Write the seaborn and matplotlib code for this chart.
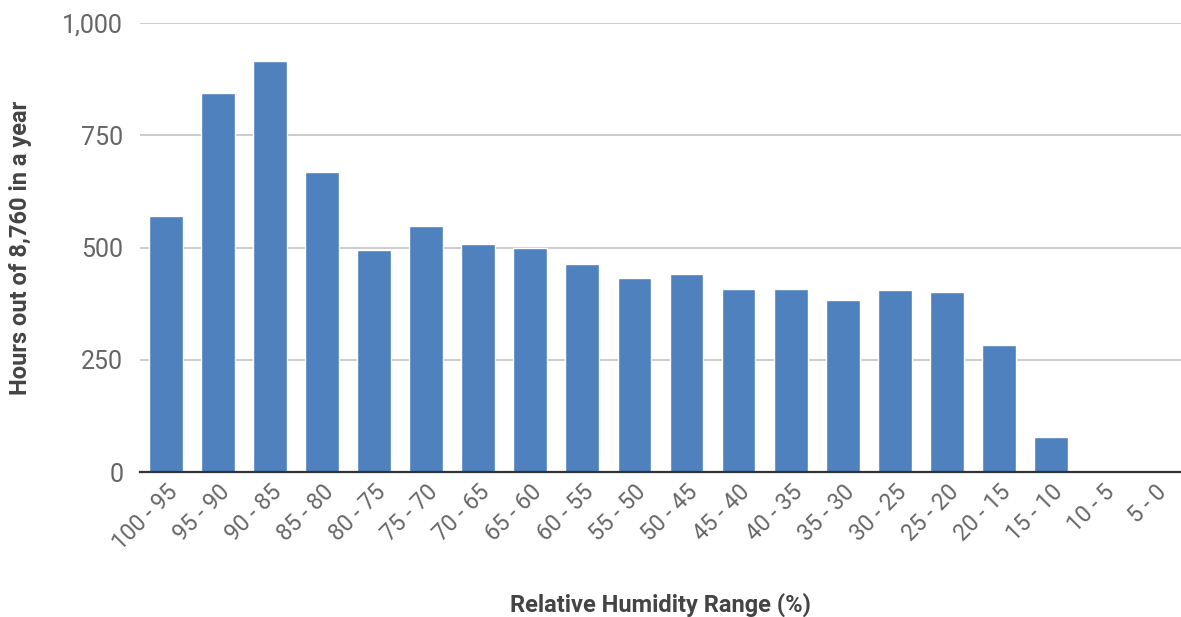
import matplotlib
matplotlib.use("Agg")
import matplotlib.pyplot as plt
import seaborn as sns
import pandas as pd

# Dados
ranges = ["100 - 95", "95 - 90", "90 - 85", "85 - 80", "80 - 75", "75 - 70",
          "70 - 65", "65 - 60", "60 - 55", "55 - 50", "50 - 45", "45 - 40",
          "40 - 35", "35 - 30", "30 - 25", "25 - 20", "20 - 15", "15 - 10",
          "10 - 5", "5 - 0"]
hours = [570, 844, 915, 668, 494, 548, 508, 499, 463, 432, 441, 408,
         408, 383, 405, 401, 283, 78, 0, 0]
yticks = [0, 250, 500, 750, 1000]
ytick_labels = ["0", "250", "500", "750", "1,000"]

df = pd.DataFrame({"range": ranges, "hours": hours})

sns.set_style("white")
plt.rcParams["font.family"] = ["Roboto", "DejaVu Sans"]

fig = plt.figure(figsize=(11.81, 6.17), dpi=100)
ax = fig.add_axes([0.1185, 0.235, 0.8815, 0.7275])

sns.barplot(data=df, x="range", y="hours", color="#4e81bd", width=0.65,
            saturation=1, ax=ax, zorder=2)

ax.set_ylim(0, 1000)
ax.set_xlim(-0.5, len(ranges) - 0.5)
ax.set_yticks(yticks)
ax.set_yticklabels(ytick_labels, color="#666666", fontsize=18)
ax.yaxis.grid(True, color="#c4c4c4", linewidth=1.2, zorder=0)
ax.set_axisbelow(True)
ax.tick_params(axis="y", length=0, pad=12)
ax.tick_params(axis="x", length=0, pad=6)
plt.setp(ax.get_xticklabels(), rotation=45, ha="right", rotation_mode="anchor",
         color="#666666", fontsize=16.5)

for s in ["top", "right", "left"]:
    ax.spines[s].set_visible(False)
ax.spines["bottom"].set_color("#333333")
ax.spines["bottom"].set_linewidth(1.6)

ax.set_xlabel("Relative Humidity Range (%)", fontsize=17, fontweight="bold",
              color="#444444")
ax.set_ylabel("Hours out of 8,760 in a year", fontsize=17, fontweight="bold",
              color="#444444")
ax.xaxis.set_label_coords(0.5, -0.296)
ax.yaxis.set_label_coords(-0.115, 0.5)
ax.xaxis.label.set_va("center")
ax.yaxis.label.set_va("center")

fig.savefig("out.png", dpi=100)
